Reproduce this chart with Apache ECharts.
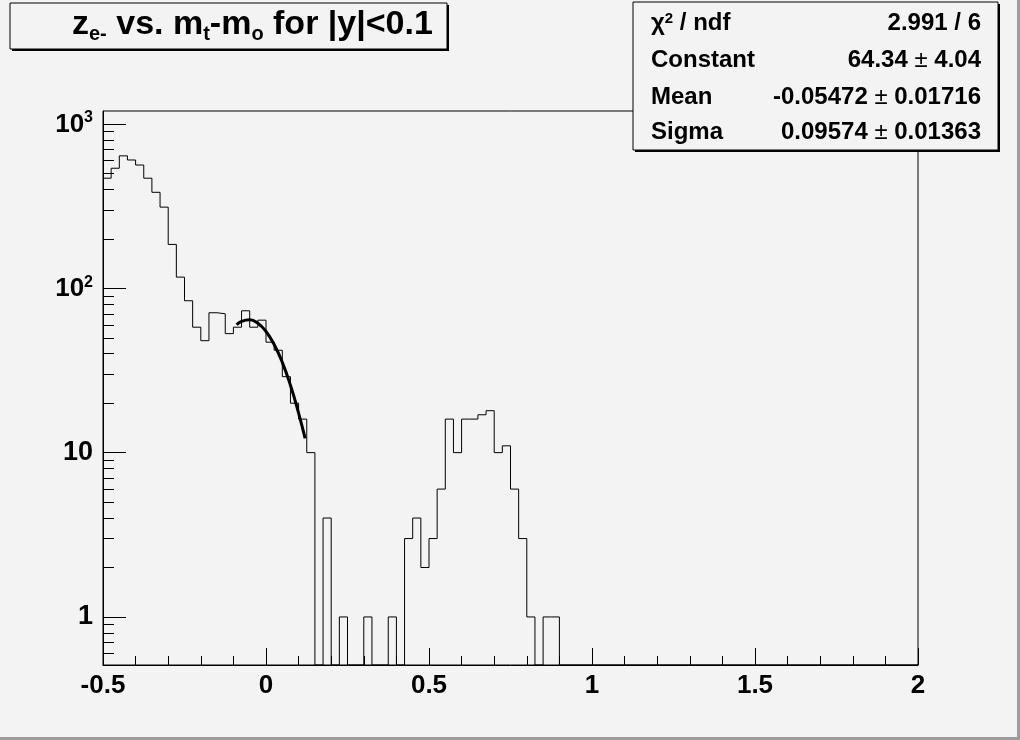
<!DOCTYPE html>
<html><head><meta charset="utf-8">
<script src="https://cdn.jsdelivr.net/npm/echarts@6/dist/echarts.min.js"></script>
<style>html,body{margin:0;padding:0;background:#f3f3f3}#c{width:1020px;height:740px}</style>
</head><body><div id="c"></div>
<script>
// ---- data ----
const binLow = -0.5;
const binWidth = 0.025;
const counts = [468,538,640,604,563,468,384,312,185,117,
  84,58,48,71,70,53,58,73,58,64,
  47,42,29,20,16,10,0,4,0,1,
  0,0,1,0,0,1,0,3,4,2,
  3,6,16,10,16,16,17,18,10,11,
  6,3,1,0,1,1,0,0,0,0,
  0,0,0,0,0,0,0,0,0,0,
  0,0,0,0,0,0,0,0,0,0,
  0,0,0,0,0,0,0,0,0,0,
  0,0,0,0,0,0,0,0,0,0];
const fitX = [-0.09,-0.075,-0.05,-0.025,0,0.025,0.05,0.075,0.1,0.12];
const fitY = [60,62.9,64.3,61.3,54.6,45.5,35.4,25.7,17.4,12.2];
const xMin = -0.5, xMax = 2, xStep = 0.5;
const yMin = 0.51, yMax = 1200;
const yMajorTicks = [1,10,100,1000];
const yMajorLabels = ['1','10','{m|10}{s|2}','{m|10}{s|3}'];
const yMinorTicks = [0.6,0.7,0.8,0.9,2,3,4,5,6,7,8,9,20,30,40,50,60,70,80,90,200,300,400,500,600,700,800,900];
const titleText = '{m|z}{s|e-}{m| vs. m}{s|t}{m|-m}{s|o}{m| for |y|<0.1}';
const statNames = ['{b|χ}{p|2}{b| / ndf}','Constant','Mean','Sigma'];
const statValues = ['2.991 / 6','{b|64.34}{n| ± }{b|4.04}','{b|-0.05472}{n| ± }{b|0.01716}','{b|0.09574}{n| ± }{b|0.01363}'];

// ---- build ----
const histData = counts.map((c,i)=>[binLow+i*binWidth, c>0?c:yMin]);
histData.push([binLow+counts.length*binWidth, counts[counts.length-1]>0?counts[counts.length-1]:yMin]);
const fitData = fitX.map((x,i)=>[x,fitY[i]]);
const F = 'Liberation Sans, Arial, sans-serif';

const chart = echarts.init(document.getElementById('c'), null, {renderer:'canvas'});
const statGraphics = [];
const rowY = [22,59,96,131];
statNames.forEach((n,i)=>{
  statGraphics.push({type:'text', left:651, top:rowY[i]-11, z:20,
    style:{text:n, font:'bold 24px '+F, fill:'#000',
      rich:{b:{fontSize:24,fontWeight:'bold',fontFamily:F,lineHeight:28,verticalAlign:'top'},
            p:{fontSize:15,fontWeight:'bold',fontFamily:F,lineHeight:15,verticalAlign:'top'}}}});
  statGraphics.push({type:'text', right:1020-981, top:rowY[i]-11, z:20,
    style:{text:statValues[i], font:'bold 24px '+F, fill:'#000', align:'right',
      rich:{b:{fontSize:24,fontWeight:'bold',fontFamily:F,lineHeight:28},
            n:{fontSize:24,fontWeight:'normal',fontFamily:F,lineHeight:28}}}});
});

chart.setOption({
  backgroundColor:'#f3f3f3',
  animation:false,
  grid:{left:103, top:111, width:815, height:554, show:true, borderColor:'#000', borderWidth:1, backgroundColor:'#f3f3f3'},
  xAxis:{type:'value', min:xMin, max:xMax, interval:xStep,
    axisLine:{show:true, onZero:false, lineStyle:{color:'#000', width:1}},
    axisTick:{show:true, inside:true, length:17, lineStyle:{color:'#000'}},
    minorTick:{show:true, splitNumber:5, length:9, lineStyle:{color:'#000'}},
    splitLine:{show:false},
    axisLabel:{color:'#000', fontSize:26, fontWeight:'bold', fontFamily:F, margin:8}},
  yAxis:[{type:'log', logBase:10, min:yMin, max:yMax, position:'left',
    axisLine:{show:true, onZero:false, lineStyle:{color:'#000', width:1}},
    axisTick:{show:true, inside:true, length:23, customValues:yMajorTicks, lineStyle:{color:'#000'}},
    splitLine:{show:false},
    axisLabel:{customValues:yMajorTicks, margin:10, color:'#000',
      fontSize:27, fontWeight:'bold', fontFamily:F,
      formatter:(v)=>{const k=yMajorTicks.findIndex(t=>Math.abs(Math.log10(t)-Math.log10(v))<1e-6); return k>=0?yMajorLabels[k]:'';},
      rich:{m:{fontSize:26,fontWeight:'bold',fontFamily:F,lineHeight:28,verticalAlign:'bottom'},
            s:{fontSize:16,fontWeight:'bold',fontFamily:F,lineHeight:16,verticalAlign:'top'}}}},
   {type:'log', logBase:10, min:yMin, max:yMax, position:'left',
    axisLine:{show:false, onZero:false},
    axisTick:{show:true, inside:true, length:11, customValues:yMinorTicks, lineStyle:{color:'#000'}},
    axisLabel:{show:false}, splitLine:{show:false}}],
  series:[
    {type:'line', step:'end', data:histData, yAxisIndex:0, symbol:'none',
      lineStyle:{color:'#000', width:1}, clip:true, z:5},
    {type:'line', smooth:true, data:fitData, yAxisIndex:0, symbol:'none',
      lineStyle:{color:'#000', width:3}, z:6}
  ],
  graphic:[
    {type:'rect', shape:{x:12,y:5,width:437,height:46}, style:{fill:'#000'}, z:10},
    {type:'rect', shape:{x:10,y:3,width:437,height:46}, style:{fill:'#f3f3f3', stroke:'#000', lineWidth:1}, z:11},
    {type:'text', left:72, top:8, z:12,
      style:{text:titleText, fill:'#000',
        rich:{m:{fontSize:34,fontWeight:'bold',fontFamily:F,lineHeight:34,verticalAlign:'top'},
              s:{fontSize:20,fontWeight:'bold',fontFamily:F,lineHeight:20,padding:[16,0,0,0],verticalAlign:'top'}}}},
    {type:'rect', shape:{x:635,y:4,width:365,height:148}, style:{fill:'#000'}, z:18},
    {type:'rect', shape:{x:633,y:2,width:365,height:148}, style:{fill:'#f3f3f3', stroke:'#000', lineWidth:1}, z:19},
    ...statGraphics,
    {type:'rect', shape:{x:1017,y:0,width:3,height:740}, style:{fill:'#9c9c9c'}, z:30},
    {type:'rect', shape:{x:0,y:737,width:1020,height:3}, style:{fill:'#9c9c9c'}, z:30}
  ]
});
</script></body></html>
